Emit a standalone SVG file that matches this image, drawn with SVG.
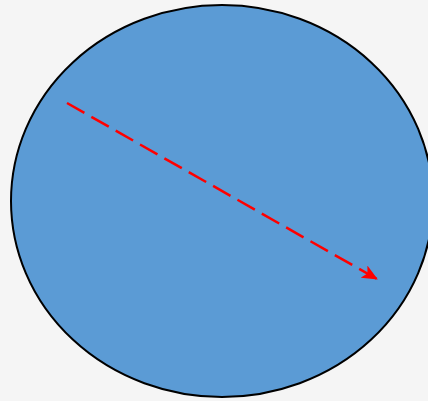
<svg xmlns="http://www.w3.org/2000/svg" width="428" height="401" viewBox="0 0 428 401">
<defs>
<marker id="ah" viewBox="0 0 16 14" refX="15" refY="7" markerWidth="16" markerHeight="14" markerUnits="userSpaceOnUse" orient="auto">
<path d="M0,0 L16,7 L0,14 L4,7 Z" fill="#ff0000"/>
</marker>
</defs>
<style>
.shape{fill:#5b9bd5;stroke:#000;stroke-width:2}
.conn{stroke:#ff0000;stroke-width:2.5;stroke-dasharray:20 8;fill:none}
</style>
<rect width="428" height="401" fill="#f5f5f5"/>
<g id="circle"><ellipse class="shape" cx="222" cy="201" rx="211" ry="196"/></g>
<g id="connectors"><line class="conn" x1="67" y1="103" x2="377" y2="279" marker-end="url(#ah)"/></g>
</svg>
